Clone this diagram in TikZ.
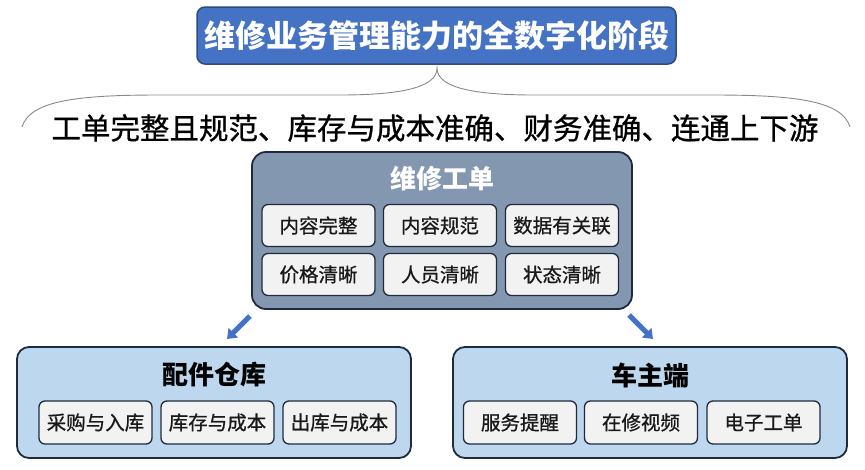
\documentclass[tikz,border=0pt]{standalone}
\usepackage{fontspec}
\setmainfont{Noto Sans CJK SC}
\newfontfamily\heavyfont[FakeBold=0.8]{Noto Sans CJK SC}
\usetikzlibrary{arrows.meta}
\definecolor{titleblue}{HTML}{4472C4}
\definecolor{titleborder}{HTML}{2F4B7C}
\definecolor{mainfill}{HTML}{8497B0}
\definecolor{darkborder}{HTML}{1F2B3D}
\definecolor{innerfill}{HTML}{F2F2F2}
\definecolor{lightfill}{HTML}{BDD7EE}
\definecolor{bracegray}{HTML}{8A8A8A}
\tikzset{
  titlebox/.style={draw=titleborder, line width=1.5pt, fill=titleblue, rounded corners=8pt,
    minimum width=479pt, minimum height=57pt, inner sep=0pt, text=white,
    font=\fontsize{31}{31}\selectfont\bfseries},
  bigbox/.style={draw=darkborder, line width=1.8pt, rounded corners=14pt, inner sep=0pt},
  cellbox/.style={draw=darkborder, line width=1.3pt, fill=innerfill, rounded corners=6pt,
    minimum width=113pt, minimum height=42pt, inner sep=0pt, text=black!90,
    font=\heavyfont\fontsize{19.5}{19.5}\selectfont},
  boxtitle/.style={inner sep=0pt, font=\fontsize{26}{26}\selectfont\bfseries},
  bluearrow/.style={draw=titleblue, line width=5pt, -{Triangle[width=13pt,length=9pt]}},
}
\begin{document}
\begin{tikzpicture}[x=1pt,y=-1pt]
\useasboundingbox (0,0) rectangle (865,469);
% title
\node[titlebox] (title) at (436.5,35.5) {维修业务管理能力的全数字化阶段};
% brace
\coordinate (bl) at (22,127);
\coordinate (br) at (850,127);
\coordinate (btip) at (437,68);
\draw[bracegray, line width=0.9pt] (bl) .. controls (30,100) and (80,95) .. (160,95)
  -- (340,95) .. controls (410,95) and (437,85) .. (btip)
  .. controls (437,85) and (464,95) .. (534,95) -- (712,95)
  .. controls (792,95) and (842,100) .. (br);
\node[inner sep=0pt, font=\heavyfont\fontsize{29.5}{29.5}\selectfont] (goal) at (435,128)
  {工单完整且规范、库存与成本准确、财务准确、连通上下游};
% main box
\node[bigbox, fill=mainfill, minimum width=380pt, minimum height=157pt] (main) at (442,230.5) {};
\node[boxtitle, text=white] (maint) at (442,179) {维修工单};
\node[cellbox] (c11) at (318.5,225.5) {内容完整};
\node[cellbox] (c12) at (440,225.5) {内容规范};
\node[cellbox] (c13) at (562,225.5) {数据有关联};
\node[cellbox] (c21) at (318.5,274.5) {价格清晰};
\node[cellbox] (c22) at (440,274.5) {人员清晰};
\node[cellbox] (c23) at (562,274.5) {状态清晰};
% left box
\node[bigbox, fill=lightfill, rounded corners=12pt, minimum width=394pt, minimum height=111pt] (lbox) at (214,402.5) {};
\node[boxtitle, text=black] (lboxt) at (214,375) {配件仓库};
\node[cellbox, minimum height=43pt] (l1) at (95.5,422.5) {采购与入库};
\node[cellbox, minimum height=43pt] (l2) at (217.5,422.5) {库存与成本};
\node[cellbox, minimum height=43pt] (l3) at (339.5,422.5) {出库与成本};
% right box
\node[bigbox, fill=lightfill, rounded corners=12pt, minimum width=394pt, minimum height=111pt] (rbox) at (650,402.5) {};
\node[boxtitle, text=black] (rboxt) at (650,375) {车主端};
\node[cellbox, minimum height=43pt] (r1) at (520,422.5) {服务提醒};
\node[cellbox, minimum height=43pt] (r2) at (641,422.5) {在修视频};
\node[cellbox, minimum height=43pt] (r3) at (763.5,422.5) {电子工单};
% arrows
\coordinate (la) at (250,316);
\coordinate (lb) at (227,339);
\coordinate (ra) at (629,315);
\coordinate (rb) at (653,339);
\draw[bluearrow] (la) -- (lb);
\draw[bluearrow] (ra) -- (rb);
\end{tikzpicture}
\end{document}
